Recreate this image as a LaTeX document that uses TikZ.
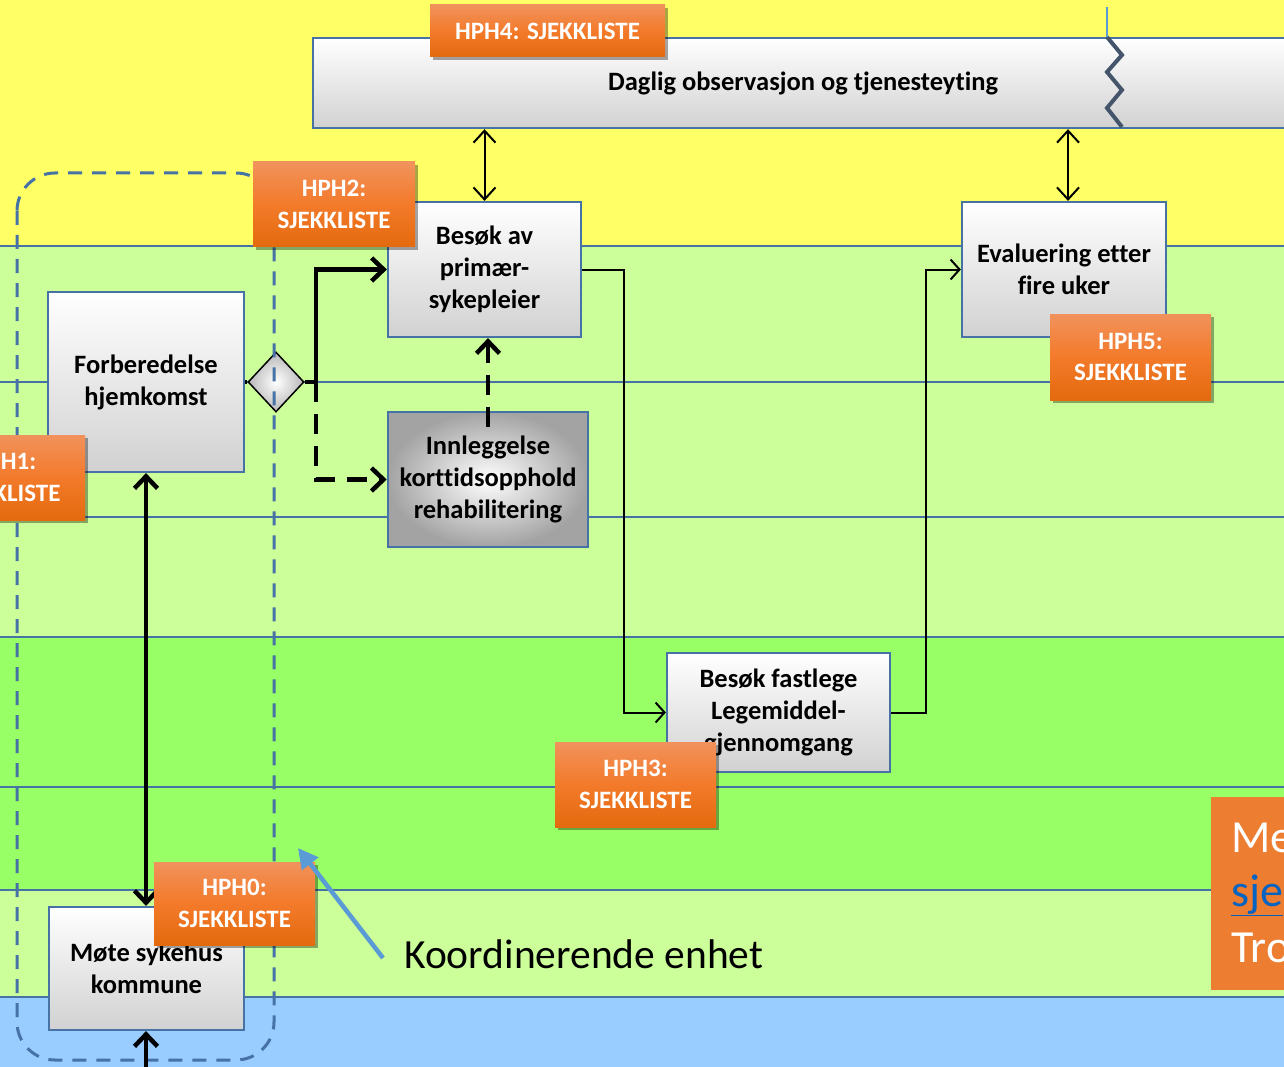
\documentclass[tikz,border=0pt]{standalone}
\usepackage{fontspec}
\setmainfont{Carlito}[Ligatures=NoCommon]
\usetikzlibrary{arrows.meta,shapes.geometric,shadows,calc}
\definecolor{ylw}{RGB}{255,255,102}
\definecolor{lgr}{RGB}{204,255,153}
\definecolor{grn}{RGB}{153,255,102}
\definecolor{blu}{RGB}{153,204,255}
\definecolor{lane}{RGB}{70,114,166}
\definecolor{orT}{RGB}{241,146,92}
\definecolor{orM}{RGB}{243,122,42}
\definecolor{orB}{RGB}{228,106,14}
\definecolor{orS}{RGB}{237,125,49}
\definecolor{zig}{RGB}{68,84,106}
\definecolor{kblue}{RGB}{91,155,213}
\definecolor{linkc}{RGB}{5,99,193}
\tikzset{
  laneln/.style={draw=lane, line width=2.6pt},
  procbox/.style={draw=lane, line width=2.2pt, shading=axis, top color=white, bottom color=black!18,
    align=center, font=\fontsize{26.5}{32}\selectfont\bfseries, inner sep=0pt},
  graybox/.style={draw=lane, line width=2.6pt, shading=radial, inner color=white, outer color=black!36,
    align=center, font=\fontsize{26.5}{32}\selectfont\bfseries, inner sep=0pt},
  badge/.style={top color=orT, bottom color=orB, middle color=orM, text=white, align=center,
    font=\fontsize{25}{31.5}\selectfont\bfseries, inner sep=0pt,
    drop shadow={shadow xshift=3pt, shadow yshift=-3pt, opacity=0.35, fill=black}},
  thickln/.style={draw=black, line width=4.5pt},
  thinln/.style={draw=black, line width=2pt},
  bigbarb/.tip={Straight Barb[length=12pt,width=23pt]},
  smallbarb/.tip={Straight Barb[length=9pt,width=20pt]},
  midbarb/.tip={Straight Barb[length=12pt,width=22pt]},
  dashln/.style={dash pattern=on 20pt off 12pt},
}
\begin{document}
\begin{tikzpicture}[x=1pt,y=-1pt]
\useasboundingbox (0,0) rectangle (1284,1067);
\clip (0,0) rectangle (1284,1067);
% bands
\fill[ylw] (0,0) rectangle (1284,246);
\fill[lgr] (0,246) rectangle (1284,637);
\fill[grn] (0,637) rectangle (1284,890);
\fill[lgr] (0,890) rectangle (1284,997);
\fill[blu] (0,997) rectangle (1284,1067);
\foreach \yy in {246,382,517,637,787,890,997} \draw[laneln] (0,\yy) -- (1284,\yy);

% top lane box
\node[procbox, minimum width=980, minimum height=90, anchor=north west] (dag) at (312,37) {Daglig observasjon og tjenesteyting};
\draw[zig, line width=4pt] (1107,37) -- (1122,55) -- (1107,72) -- (1122,90) -- (1107,108) -- (1122,127);
\draw[kblue, line width=1.5pt] (1107,7) -- (1107,37);

% process boxes
\node[procbox, minimum width=196, minimum height=180] (forb) at (146,382) {Forberedelse\\hjemkomst};
\node[procbox, minimum width=195, minimum height=123] (mote) at (146.5,968.5) {Møte sykehus\\kommune};
\node[procbox, minimum width=193, minimum height=135] (besok) at (484.5,269.5) {Besøk av\\primær-\\sykepleier};
\node[graybox, minimum width=200, minimum height=135] (innl) at (488,479.5) {Innleggelse\\korttidsopphold\\rehabilitering};
\node[procbox, minimum width=204, minimum height=135] (eval) at (1064,269.5) {Evaluering etter\\fire uker};
\node[procbox, minimum width=223, minimum height=119] (fast) at (778.5,712.5) {Besøk fastlege\\Legemiddel-\\gjennomgang};
\node[diamond, draw=black, line width=1.5pt, shading=radial, inner color=white, outer color=black!28,
  minimum width=56, minimum height=60, inner sep=0pt] (gw) at (276,382) {};

% coordinating unit (dashed)
\draw[lane, line width=3pt, dash pattern=on 14pt off 10pt, rounded corners=38pt] (17,173) rectangle (274,1060);

% connectors
\coordinate (split) at (316,382);
\coordinate (c1) at (624,0);
\coordinate (c2) at (926,0);
\coordinate (mbot) at (146,1070);
\draw[thickln] (forb.east) -- (gw.west);
\draw[thickln, -{bigbarb}] (gw.east) -- (split) |- (besok.west);
\draw[thickln, dashln, -{bigbarb}] (split) |- (innl.west);
\draw[thickln, dashln, -{bigbarb}] ([yshift=-16pt]innl.north) -- (innl.north |- besok.south);
\draw[thinln, -{smallbarb}] (besok.east) -- (besok.east -| c1) |- (fast.west);
\draw[thinln, -{smallbarb}] (fast.east) -- (fast.east -| c2) |- (eval.west);
\draw[thinln, {midbarb}-{midbarb}] (besok.north |- dag.south) -- (besok.north);
\draw[thinln, {midbarb}-{midbarb}] ([xshift=4pt]eval.north |- dag.south) -- ([xshift=4pt]eval.north);
\draw[thickln, {bigbarb}-{bigbarb}] (forb.south) -- (forb.south |- mote.north);
\draw[thickln, -{bigbarb}] (mbot) -- (mbot |- mote.south);

% badges
\node[badge, minimum width=235, minimum height=52] (b4) at (547.5,31) {HPH4: SJEKKLISTE};
\node[badge, minimum width=162, minimum height=85] (b2) at (334,204.5) {HPH2:\\SJEKKLISTE};
\node[badge, minimum width=162, minimum height=85] (b1) at (4,477.5) {HPH1:\\SJEKKLISTE};
\node[badge, minimum width=161, minimum height=86] (b5) at (1130.5,357) {HPH5:\\SJEKKLISTE};
\node[badge, minimum width=161, minimum height=85] (b3) at (635.5,784.5) {HPH3:\\SJEKKLISTE};
\node[badge, minimum width=161, minimum height=83] (b0) at (234.5,903.5) {HPH0:\\SJEKKLISTE};

% label of coordinating unit
\node[anchor=base west, inner sep=0pt, font=\fontsize{41.5}{49}\selectfont] (koord) at (404,968) {Koordinerende enhet};
\coordinate (kstart) at (383,958);
\coordinate (ktip) at (298,848);
\draw[kblue, line width=4.5pt, -{Triangle[length=20pt,width=20pt]}] (kstart) -- (ktip);

% info box at right
\fill[orS] (1211,797) rectangle (1300,990);
\node[anchor=base west, inner sep=0pt, text=white, font=\fontsize{46}{54}\selectfont] (i1) at (1231,852) {Me};
\node[anchor=base west, inner sep=0pt, text=linkc, font=\fontsize{46}{54}\selectfont] (i2) at (1231,906) {\underline{sje}};
\node[anchor=base west, inner sep=0pt, text=white, font=\fontsize{46}{54}\selectfont] (i3) at (1231,962) {Tro};
\end{tikzpicture}
\end{document}
